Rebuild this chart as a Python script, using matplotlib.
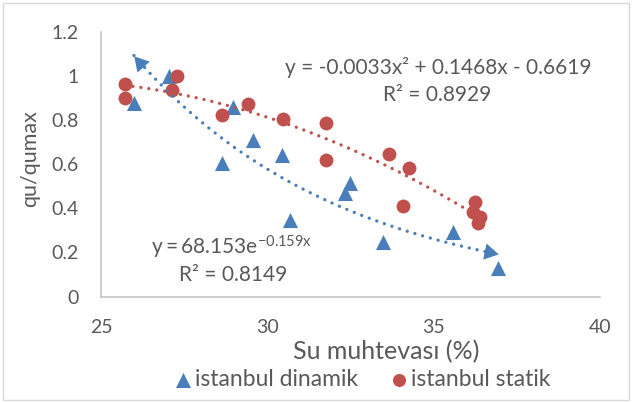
import numpy as np
import matplotlib
matplotlib.use("Agg")
import matplotlib.pyplot as plt
from matplotlib.patches import Rectangle

plt.rcParams['font.family'] = ['Lato', 'DejaVu Sans']
plt.rcParams['mathtext.fontset'] = 'custom'
plt.rcParams['mathtext.rm'] = 'Lato'
plt.rcParams['mathtext.it'] = 'Lato:italic'
plt.rcParams['mathtext.bf'] = 'Lato:bold'

# istanbul dinamik
dyn_x = [25.99, 27.04, 28.97, 28.64, 29.57, 30.44, 30.68, 32.33, 32.48, 33.47, 35.58, 36.93]
dyn_y = [0.878, 1.00, 0.86, 0.606, 0.71, 0.642, 0.347, 0.47, 0.515, 0.247, 0.293, 0.129]

# istanbul statik
sta_x = [25.72, 25.72, 27.28, 27.13, 28.64, 29.42, 30.47, 31.76, 31.76, 33.66, 34.26, 34.08,
         36.24, 36.18, 36.39, 36.33]
sta_y = [0.964, 0.900, 1.000, 0.937, 0.823, 0.873, 0.805, 0.787, 0.619, 0.646, 0.583, 0.411,
         0.429, 0.383, 0.361, 0.333]

# exponential trendline of the dynamic series: y = a * exp(b x)
exp_a = 68.153
exp_b = -0.159

x_ticks = [25, 30, 35, 40]
y_ticks = [0, 0.2, 0.4, 0.6, 0.8, 1.0, 1.2]
y_tick_labels = ['0', '0.2', '0.4', '0.6', '0.8', '1', '1.2']

BLUE = '#4A7EBB'
RED = '#C0504D'
GRAY = '#595959'
AXIS = '#BFBFBF'

W, H = 632, 403


def fpos(px, py):
    return px / W, 1 - py / H


fig = plt.figure(figsize=(W / 100, H / 100), dpi=100)
ax = fig.add_axes([101 / W, 1 - 296.5 / H, (600 - 101) / W, (296.5 - 32) / H])

# chart border
fig.patches.append(Rectangle((3 / W, 3 / H), (W - 6) / W, (H - 6) / H, transform=fig.transFigure,
                             fill=False, edgecolor='#D9D9D9', linewidth=1.0))

ax.set_xlim(25, 40)
ax.set_ylim(0, 1.2)
ax.set_xticks(x_ticks)
ax.set_yticks(y_ticks)
ax.set_yticklabels(y_tick_labels)
ax.tick_params(length=0, labelsize=14, labelcolor=GRAY, pad=16)
for side in ('top', 'right'):
    ax.spines[side].set_visible(False)
for side in ('left', 'bottom'):
    ax.spines[side].set_color(AXIS)
    ax.spines[side].set_linewidth(1.1)
ax.patch.set_alpha(0)

TRI_S = 118
DOT_S = 100
ax.scatter(dyn_x, dyn_y, marker='^', s=TRI_S, color=BLUE, linewidths=0, zorder=3,
           label='istanbul dinamik')
ax.scatter(sta_x, sta_y, marker='o', s=DOT_S, color=RED, linewidths=0, zorder=4,
           label='istanbul statik')

# trendlines over each series' x range
dx = np.array(dyn_x)
xe = np.linspace(dx.min(), dx.max(), 200)
ye = exp_a * np.exp(exp_b * xe)

sx = np.array(sta_x)
sy = np.array(sta_y)
coef = np.polyfit(sx, sy, 2)
xp = np.linspace(sx.min(), sx.max(), 200)
yp = np.polyval(coef, xp)

dot = (0, (0.01, 2.4))
ax.plot(xp, yp, color=RED, lw=2.4, linestyle=dot, dash_capstyle='round', zorder=5)
ax.plot(xe, ye, color=BLUE, lw=2.4, linestyle=dot, dash_capstyle='round', zorder=5)

# arrowheads at both ends of the exponential trendline
fig.canvas.draw()
tr = ax.transData
R = 9.5  # circumradius in pixels


def arrowhead(p_tip, p_from):
    tip = tr.transform(p_tip)
    back = tr.transform(p_from)
    u = tip - back
    u = u / np.hypot(*u)
    centre = tip - u * R
    ang = np.degrees(np.arctan2(u[1], u[0]))
    cx, cy = tr.inverted().transform(centre)
    ax.plot([cx], [cy], marker=(3, 0, ang - 90), markersize=2 * R * 72 / 100,
            color=BLUE, markeredgewidth=0, zorder=6, clip_on=False)


arrowhead((xe[0], ye[0]), (xe[3], ye[3]))
arrowhead((xe[-1], ye[-1]), (xe[-4], ye[-4]))

# trendline equations
fig.text(*fpos(438, 67), 'y = -0.0033x² + 0.1468x - 0.6619', ha='center', va='center',
         fontsize=15, color=GRAY)
fig.text(*fpos(437, 95), 'R² = 0.8929', ha='center', va='center', fontsize=15, color=GRAY)
fig.text(*fpos(232, 247), r'$\mathregular{y = 68.153e^{-0.159x}}$', ha='center', va='center',
         fontsize=15, color=GRAY)
fig.text(*fpos(233, 275), 'R² = 0.8149', ha='center', va='center', fontsize=15, color=GRAY)

# axis titles
fig.text(*fpos(386, 352), 'Su muhtevası (%)', ha='center', va='center', fontsize=18, color=GRAY)
fig.text(*fpos(30, 159), 'qu/qumax', ha='center', va='center', fontsize=15.5, color=GRAY,
         rotation=90)

leg = fig.legend(loc='center', bbox_to_anchor=fpos(361, 380), ncol=2, frameon=False,
                 fontsize=16.5, handletextpad=0.0, columnspacing=1.3, handlelength=1.0,
                 borderaxespad=0, scatterpoints=1)
leg.legend_handles[0].set_sizes([TRI_S])
leg.legend_handles[1].set_sizes([88])
for t in leg.get_texts():
    t.set_color(GRAY)

fig.savefig('out.png', dpi=100)
